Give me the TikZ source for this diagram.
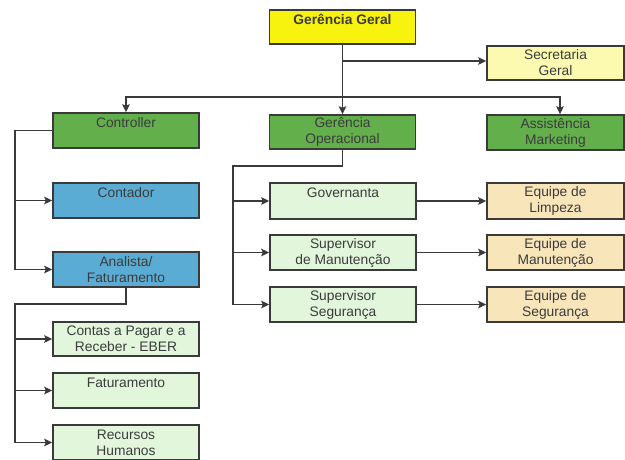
\documentclass[tikz,border=0pt]{standalone}
\usepackage{fontspec}
\setmainfont{Liberation Sans}
\usepackage{tikz}
\usetikzlibrary{arrows.meta}
\usepackage{xcolor}
\definecolor{amarelo}{HTML}{F8F20F}
\definecolor{amareloclaro}{HTML}{FCFAB0}
\definecolor{verde}{HTML}{62AF4C}
\definecolor{azul}{HTML}{5BACD4}
\definecolor{verdeclaro}{HTML}{E1F6DB}
\definecolor{bege}{HTML}{F9E5BA}
\definecolor{borda}{HTML}{3A3A3A}
\definecolor{texto}{HTML}{3C3C3C}

\begin{document}
\begin{tikzpicture}[x=1pt,y=-1pt,
		caixa/.style={draw=borda,line width=1.5pt,align=center,text=texto,
			font=\fontsize{13.8}{16}\selectfont,inner sep=2pt,minimum height=35pt},
		larga/.style={caixa,minimum width=146pt},
		estreita/.style={caixa,minimum width=137pt},
		liga/.style={draw=borda,line width=1.7pt,-{Stealth[length=8pt,width=7.5pt,inset=1.5pt]}}]
			\useasboundingbox (0,0) rectangle (625,459);
			% topo
			\node[larga,fill=amarelo,font=\fontsize{13.8}{16}\selectfont\bfseries,minimum height=34pt] (GG) at (342.5,27) {Gerência Geral\\\mbox{}};
			\node[estreita,fill=amareloclaro,minimum height=34pt] (Sec) at (555.5,63) {Secretaria\\Geral};
			\node[larga,fill=verde] (Ctrl) at (126,130.5) {Controller\\\mbox{}};
			\node[larga,fill=verde,minimum height=34pt] (GerOp) at (342.5,132) {Gerência\\Operacional};
			\node[estreita,fill=verde] (Assist) at (555.5,132.5) {Assistência\\Marketing};
			% coluna do controller
			\node[larga,fill=azul] (Cont) at (126,200.5) {Contador\\\mbox{}};
			\node[larga,fill=azul] (Anal) at (126,269.5) {Analista/\\Faturamento};
			\node[larga,fill=verdeclaro,minimum height=34pt] (Contas) at (126,339) {Contas a Pagar e a\\Receber - EBER};
			\node[larga,fill=verdeclaro] (Fat) at (126,390.5) {Faturamento\\\mbox{}};
			\node[larga,fill=verdeclaro] (RH) at (126,442.5) {Recursos\\Humanos};
			% coluna operacional
			\node[larga,fill=verdeclaro,minimum height=36pt] (Gov) at (343,201) {Governanta\\\mbox{}};
			\node[larga,fill=verdeclaro] (SupMan) at (343,252.5) {Supervisor\\de Manutenção};
			\node[larga,fill=verdeclaro] (SupSeg) at (343,304.5) {Supervisor\\Segurança};
			\node[estreita,fill=bege,minimum height=36pt] (EqLimp) at (555.5,201) {Equipe de\\Limpeza};
			\node[estreita,fill=bege] (EqMan) at (555.5,252.5) {Equipe de\\Manutenção};
			\node[estreita,fill=bege] (EqSeg) at (555.5,304.5) {Equipe de\\Segurança};
			% pontos de ramificacao
			\coordinate (barra) at (342.5,97);
			\coordinate (c1) at (15,0);
			\coordinate (c2) at (15,304);
			\coordinate (c3) at (233,166);
			\draw[liga] (GG) -- (GerOp);
			\draw[liga] (GG.south |- 0,61) -- (Sec.west |- 0,61);
			\draw[liga] (barra) -| (Ctrl);
			\draw[liga] (barra) -| (Assist.north -| 560,0);
			\draw[liga] (Ctrl.west) -| (c1 |- Anal.west) -- (Anal.west);
			\draw[liga] (c1 |- Cont.west) -- (Cont.west);
			\draw[liga] (Anal.south) |- (c2) -- (c2 |- RH.west) -- (RH.west);
			\foreach \Nome in {Contas,Fat}
				\draw[liga] (c2 |- \Nome.west) -- (\Nome.west);
			\draw[liga] (GerOp.south) |- (c3) -- (c3 |- SupSeg.west) -- (SupSeg.west);
			\foreach \Nome in {Gov,SupMan}
				\draw[liga] (c3 |- \Nome.west) -- (\Nome.west);
			\draw[liga] (Gov) -- (EqLimp);
			\draw[liga] (SupMan) -- (EqMan);
			\draw[liga] (SupSeg) -- (EqSeg);
		\end{tikzpicture}
\end{document}
